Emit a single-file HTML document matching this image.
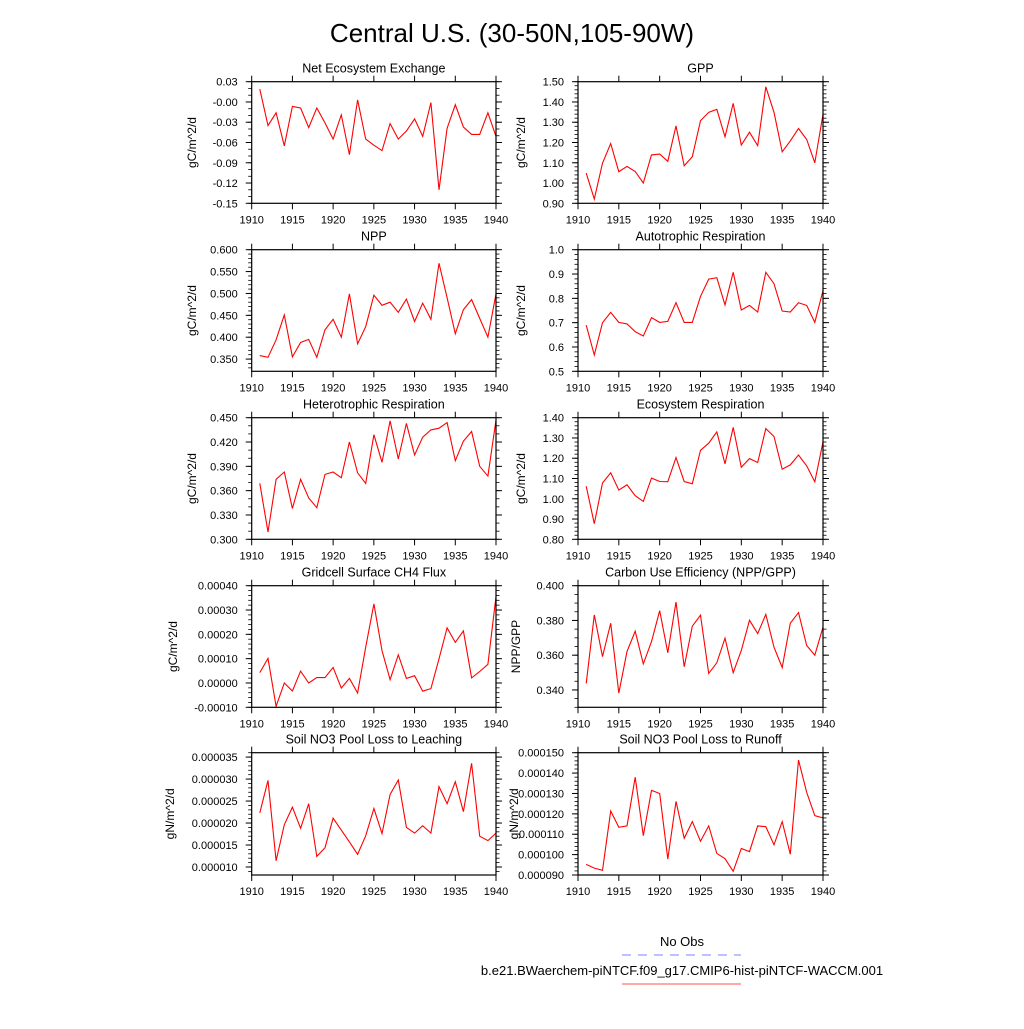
<!DOCTYPE html>
<html><head><meta charset="utf-8"><style>
html,body{margin:0;padding:0;background:#fff;}
svg text{font-family:"Liberation Sans",Arial,sans-serif;fill:#000;}
</style></head><body>
<svg id="chart" width="1024" height="1024" viewBox="0 0 1024 1024" xmlns="http://www.w3.org/2000/svg">
<text x="512" y="42" font-size="26" text-anchor="middle">Central U.S. (30-50N,105-90W)</text>
<text x="682" y="946" font-size="13" text-anchor="middle">No Obs</text>
<line x1="622" y1="955" x2="741" y2="955" stroke="#7a86ff" stroke-width="1" stroke-dasharray="9,7"/>
<text x="682" y="975" font-size="13" text-anchor="middle">b.e21.BWaerchem-piNTCF.f09_g17.CMIP6-hist-piNTCF-WACCM.001</text>
<line x1="622" y1="984" x2="741" y2="984" stroke="#ff5050" stroke-width="1"/>
<g id="panels"></g>
</svg>
<script>
const years = [1911,1912,1913,1914,1915,1916,1917,1918,1919,1920,1921,1922,1923,1924,1925,1926,1927,1928,1929,1930,1931,1932,1933,1934,1935,1936,1937,1938,1939,1940];
const xTicks = [1910,1915,1920,1925,1930,1935,1940];
const neeValues = [0.019,-0.035,-0.016,-0.065,-0.0065,-0.009,-0.038,-0.009,-0.031,-0.055,-0.019,-0.078,0.003,-0.055,-0.064,-0.072,-0.032,-0.055,-0.043,-0.025,-0.051,-0.001,-0.130,-0.039,-0.004,-0.037,-0.048,-0.048,-0.016,-0.051];
const gppValues = [1.049,0.921,1.098,1.195,1.056,1.082,1.057,1.0,1.139,1.143,1.107,1.282,1.085,1.13,1.307,1.349,1.364,1.228,1.393,1.187,1.251,1.184,1.475,1.349,1.154,1.208,1.269,1.215,1.1,1.339];
const nppValues = [0.358,0.354,0.394,0.451,0.355,0.388,0.395,0.354,0.417,0.441,0.400,0.499,0.385,0.424,0.496,0.473,0.480,0.457,0.487,0.436,0.478,0.441,0.569,0.490,0.408,0.463,0.486,0.443,0.400,0.499];
const arValues = [0.690,0.567,0.700,0.742,0.701,0.695,0.663,0.645,0.721,0.701,0.705,0.782,0.701,0.701,0.808,0.879,0.885,0.773,0.907,0.752,0.771,0.744,0.907,0.860,0.748,0.744,0.782,0.771,0.701,0.832];
const hrValues = [0.369,0.309,0.374,0.383,0.338,0.374,0.351,0.339,0.380,0.383,0.376,0.420,0.382,0.369,0.429,0.395,0.446,0.399,0.443,0.404,0.426,0.435,0.437,0.444,0.397,0.421,0.433,0.390,0.378,0.447];
const erValues = [1.062,0.877,1.078,1.128,1.043,1.069,1.015,0.987,1.102,1.085,1.084,1.203,1.085,1.074,1.239,1.274,1.330,1.172,1.352,1.156,1.198,1.179,1.346,1.307,1.146,1.167,1.216,1.162,1.084,1.280];
const ch4Values = [0.0000425,0.000101,-0.000096,0.0,-0.000033,0.000049,0.0,0.000022,0.000022,0.000064,-0.000021,0.000019,-0.000041,0.000147,0.000325,0.000133,0.000014,0.000116,0.000019,0.000030,-0.000034,-0.000023,0.000099,0.000227,0.000167,0.000214,0.000021,0.000047,0.000077,0.000356];
const cueValues = [0.3437,0.3832,0.3592,0.3784,0.3382,0.3621,0.3738,0.3550,0.3678,0.3856,0.3614,0.3906,0.3533,0.3767,0.3830,0.3495,0.3556,0.3698,0.3499,0.3627,0.3801,0.3724,0.3835,0.3646,0.3529,0.3784,0.3845,0.3656,0.3600,0.3761];
const leachValues = [0.0000223,0.0000297,0.0000114,0.0000196,0.0000236,0.0000188,0.0000244,0.0000124,0.0000144,0.0000211,0.0000184,0.0000157,0.0000129,0.0000171,0.0000233,0.0000176,0.0000265,0.0000298,0.0000190,0.0000177,0.0000194,0.0000177,0.0000283,0.0000244,0.0000294,0.0000226,0.0000336,0.0000170,0.0000160,0.0000177];
const runoffValues = [0.0000952,0.0000934,0.0000923,0.0001214,0.0001134,0.0001141,0.0001380,0.0001093,0.0001315,0.0001300,0.0000978,0.0001261,0.0001080,0.0001162,0.0001066,0.0001141,0.0001006,0.0000980,0.0000918,0.0001030,0.0001015,0.0001141,0.0001137,0.0001048,0.0001162,0.0001002,0.0001464,0.0001305,0.0001191,0.0001180];
const neeTicks = ["0.03","-0.00","-0.03","-0.06","-0.09","-0.12","-0.15"];
const gppTicks = ["1.50","1.40","1.30","1.20","1.10","1.00","0.90"];
const nppTicks = ["0.600","0.550","0.500","0.450","0.400","0.350"];
const arTicks = ["1.0","0.9","0.8","0.7","0.6","0.5"];
const hrTicks = ["0.450","0.420","0.390","0.360","0.330","0.300"];
const erTicks = ["1.40","1.30","1.20","1.10","1.00","0.90","0.80"];
const ch4Ticks = ["0.00040","0.00030","0.00020","0.00010","0.00000","-0.00010"];
const cueTicks = ["0.400","0.380","0.360","0.340"];
const leachTicks = ["0.000035","0.000030","0.000025","0.000020","0.000015","0.000010"];
const runoffTicks = ["0.000150","0.000140","0.000130","0.000120","0.000110","0.000100","0.000090"];

const NS='http://www.w3.org/2000/svg';
const root=document.getElementById('panels');
function mk(tag,attrs,parent){const e=document.createElementNS(NS,tag);for(const k in attrs)e.setAttribute(k,attrs[k]);(parent||root).appendChild(e);return e;}
const colL=[251.7,496],colR=[578,823];
const rows=[[81.7,203.3],[249.7,371.3],[417.7,539.3],[585.7,707.3],[752.7,875]];
const panels=[
 {id:'nee',title:'Net Ecosystem Exchange',yl:'gC/m^2/d',col:colL,row:0,vals:neeValues,ticks:neeTicks,ymin:-0.15,ymax:0.03,minor:0.01,ylx:196},
 {id:'gpp',title:'GPP',yl:'gC/m^2/d',col:colR,row:0,vals:gppValues,ticks:gppTicks,ymin:0.9,ymax:1.5,minor:0.02,ylx:525},
 {id:'npp',title:'NPP',yl:'gC/m^2/d',col:colL,row:1,vals:nppValues,ticks:nppTicks,ymin:0.3221,ymax:0.6,minor:0.01,ylx:196},
 {id:'ar',title:'Autotrophic Respiration',yl:'gC/m^2/d',col:colR,row:1,vals:arValues,ticks:arTicks,ymin:0.5,ymax:1.0,minor:0.02,ylx:525},
 {id:'hr',title:'Heterotrophic Respiration',yl:'gC/m^2/d',col:colL,row:2,vals:hrValues,ticks:hrTicks,ymin:0.3,ymax:0.45,minor:0.01,ylx:196},
 {id:'er',title:'Ecosystem Respiration',yl:'gC/m^2/d',col:colR,row:2,vals:erValues,ticks:erTicks,ymin:0.8,ymax:1.4,minor:0.02,ylx:525},
 {id:'ch4',title:'Gridcell Surface CH4 Flux',yl:'gC/m^2/d',col:colL,row:3,vals:ch4Values,ticks:ch4Ticks,ymin:-0.0001,ymax:0.0004,minor:0.00002,ylx:177},
 {id:'cue',title:'Carbon Use Efficiency (NPP/GPP)',yl:'NPP/GPP',col:colR,row:3,vals:cueValues,ticks:cueTicks,ymin:0.33,ymax:0.4,minor:0.005,ylx:520},
 {id:'leach',title:'Soil NO3 Pool Loss to Leaching',yl:'gN/m^2/d',col:colL,row:4,vals:leachValues,ticks:leachTicks,ymin:0.00000818,ymax:0.0000360,minor:0.000001,ylx:174},
 {id:'runoff',title:'Soil NO3 Pool Loss to Runoff',yl:'gN/m^2/d',col:colR,row:4,vals:runoffValues,ticks:runoffTicks,ymin:0.00009,ymax:0.00015,minor:0.000002,ylx:518}
];
panels.forEach(p=>{
 const [x0,x1]=p.col,[y0,y1]=rows[p.row];
 const g=mk('g',{});
 
 
 const xs=v=>x0+(v-1910)/30*(x1-x0);
 const ys=v=>y1-(v-p.ymin)/(p.ymax-p.ymin)*(y1-y0);
 const t=mk('text',{x:(x0+x1)/2,y:y0-9,'font-size':12.5,'text-anchor':'middle'},g);t.textContent=p.title;
 
 
 // minor y ticks
 const n=Math.round((p.ymax-p.ymin)/p.minor)+2;
 const base=Math.ceil(p.ymin/p.minor-1e-6);
 for(let i=0;i<n;i++){const v=(base+i)*p.minor;if(v>p.ymax+1e-12)break;const yy=ys(v);
  mk('line',{x1:x0-3.5,x2:x0,y1:yy,y2:yy,stroke:'#000','stroke-width':0.8},g);
  mk('line',{x1:x1,x2:x1+3.5,y1:yy,y2:yy,stroke:'#000','stroke-width':0.8},g);}
 // major y ticks + labels
 p.ticks.forEach(s=>{const v=parseFloat(s);const yy=ys(v);
  mk('line',{x1:x0-6,x2:x0,y1:yy,y2:yy,stroke:'#000','stroke-width':1},g);
  mk('line',{x1:x1,x2:x1+6,y1:yy,y2:yy,stroke:'#000','stroke-width':1},g);
  const l=mk('text',{x:x0-14,y:yy+4,'font-size':11,'text-anchor':'end'},g);l.textContent=s;
  
  });
 // x ticks
 xTicks.forEach(v=>{const xx=xs(v);
  mk('line',{x1:xx,x2:xx,y1:y1,y2:y1+6,stroke:'#000','stroke-width':1},g);
  mk('line',{x1:xx,x2:xx,y1:y0-6,y2:y0,stroke:'#000','stroke-width':1},g);
  const l=mk('text',{x:xx,y:y1+20,'font-size':11,'text-anchor':'middle'},g);l.textContent=v;
  
  });
 const yl=mk('text',{x:p.ylx,y:(y0+y1)/2,'font-size':12,'text-anchor':'middle',transform:`rotate(-90 ${p.ylx} ${(y0+y1)/2})`},g);yl.textContent=p.yl;
 
 
 const pts=years.map((yr,i)=>xs(yr).toFixed(1)+','+ys(p.vals[i]).toFixed(1)).join(' ');
 const pl=mk('polyline',{points:pts,fill:'none',stroke:'#ff0000','stroke-width':1.1},g);
 
 
 const fr=mk('rect',{x:x0,y:y0,width:x1-x0,height:y1-y0,fill:'none',stroke:'#000','stroke-width':1.2},g);
 
 
});
</script>
</body></html>
